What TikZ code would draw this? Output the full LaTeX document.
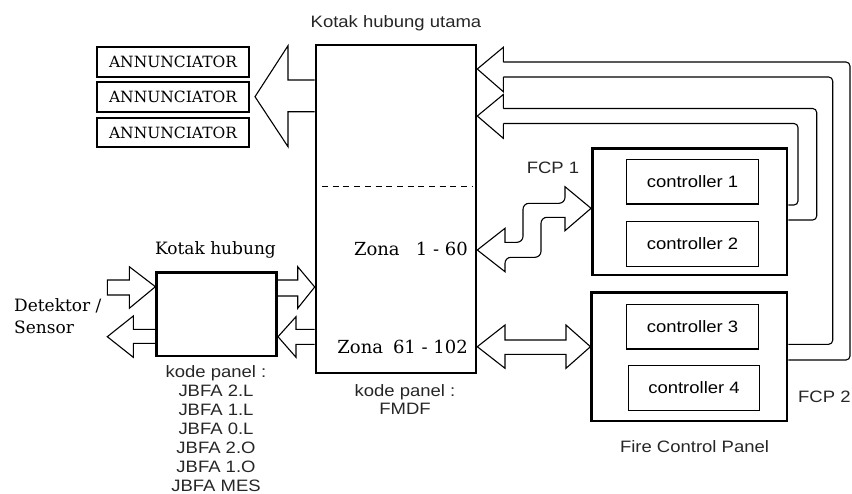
\documentclass[tikz,border=0pt]{standalone}
\usepackage{fontspec}
\usepackage{tikz}
\newfontfamily\arialfont{Liberation Sans}[FakeStretch=1.12]
\newfontfamily\bookfont{DejaVu Serif}

\begin{document}
\begin{tikzpicture}[x = 1pt, y = -1pt,
        bigbox/.style = {draw, line width=2.6pt, inner sep=0pt},
        ctrlbox/.style = {draw, line width=1.3pt, inner sep=0pt, minimum width=131.6pt,
            minimum height=44.5pt, font=\arialfont\fontsize{16.5}{18}\selectfont},
        annbox/.style = {draw, line width=2.4pt, inner sep=0pt, minimum width=152pt,
            minimum height=29.5pt, font=\bookfont\fontsize{15.5}{18}\selectfont},
        sanslabel/.style = {inner sep=0pt, align=center, text=black!85,
            font=\arialfont\fontsize{16.5}{18.9}\selectfont},
        seriflabel/.style = {inner sep=0pt, align=left, font=\bookfont\fontsize{17}{21.7}\selectfont},
        zonalabel/.style = {seriflabel, anchor=east, font=\bookfont\fontsize{18}{21.7}\selectfont},
        blockarrow/.style = {draw, line width=1.1pt, line join=miter},
        feedline/.style = {draw, line width=1.1pt, rounded corners=4pt}]
    \useasboundingbox (0,0) rectangle (852,493);

    \node[bigbox, minimum width=160pt, minimum height=328pt] (main) at (396,209) {};
    \node[sanslabel] (maintitle) at (396,23.3) {Kotak hubung utama};
    \draw[dash pattern=on 6pt off 4.7pt, line width=1.1pt] (322,186.7) -- (472.5,186.7);
    \node[zonalabel] (zonaa) at (468,249) {Zona\hspace{0.9em}1 - 60};
    \node[zonalabel] (zonab) at (468,346.7) {Zona\hspace{0.55em}61 - 102};
    \node[sanslabel] (mainkode) at (405,399.5) {kode panel :\\FMDF};

    \node[annbox] (ann1) at (173,62) {ANNUNCIATOR};
    \node[annbox] (ann2) at (173,97) {ANNUNCIATOR};
    \node[annbox] (ann3) at (173,132.5) {ANNUNCIATOR};
    \draw[blockarrow] (main.west |- 0,80) -- (288,80) -- (288,45.7) -- (255,96.7)
        -- (288,146.7) -- (288,111.7) -- (main.west |- 0,111.7);

    \node[bigbox, minimum width=120pt, minimum height=83.3pt] (hub) at (216.7,314.3) {};
    \node[seriflabel] (hubtitle) at (215.5,250) {Kotak hubung};
    \node[sanslabel] (hubkode) at (216,428.5)
        {kode panel :\\JBFA 2.L\\JBFA 1.L\\JBFA 0.L\\JBFA 2.O\\JBFA 1.O\\JBFA MES};
    \node[seriflabel, anchor=west] (sensor) at (14,316) {Detektor /\\Sensor};

    \draw[blockarrow] (107.3,280) -- (129.3,280) -- (129.3,266.7) -- (hub.west |- 0,286.7)
        -- (129.3,308.3) -- (129.3,295) -- (107.3,295) -- cycle;
    \draw[blockarrow] (hub.west |- 0,329.3) -- (133.3,329.3) -- (133.3,316) -- (107.3,336.7)
        -- (133.3,357.3) -- (133.3,343.3) -- (hub.west |- 0,343.3);
    \draw[blockarrow] (hub.east |- 0,280) -- (297.7,280) -- (297.7,266.7) -- (main.west |- 0,287)
        -- (297.7,308.3) -- (297.7,296) -- (hub.east |- 0,296);
    \draw[blockarrow] (main.west |- 0,329.3) -- (296,329.3) -- (296,316.7) -- (hub.east |- 0,336.7)
        -- (296,357.3) -- (296,344.3) -- (main.west |- 0,344.3);

    \node[bigbox, minimum width=194.7pt, minimum height=126.7pt] (fcp1) at (689.7,211.7) {};
    \node[bigbox, minimum width=195.3pt, minimum height=128.3pt] (fcp2) at (689.4,356.9) {};
    \node[ctrlbox] (ctrl1) at (692.5,181.7) {controller 1};
    \node[ctrlbox] (ctrl2) at (692.5,243.9) {controller 2};
    \node[ctrlbox] (ctrl3) at (692.5,326.8) {controller 3};
    \node[ctrlbox] (ctrl4) at (694,387.9) {controller 4};
    \node[sanslabel] (fcpa) at (553,168.3) {FCP 1};
    \node[sanslabel, anchor=west] (fcpb) at (798,396.7) {FCP 2};
    \node[sanslabel] (fcptitle) at (694.5,446.7) {Fire Control Panel};

    \draw[blockarrow] (main.east |- 0,250) -- (505,228.3) -- (505,242.3) [rounded corners=6pt]
        -- (523,242.3) -- (523,203.3) -- (565,203.3) [sharp corners] -- (565,186.7)
        -- (fcp1.west |- 0,208.3) -- (565,230.7) -- (565,217.3) [rounded corners=6pt]
        -- (541,217.3) -- (541,257.3) -- (505,257.3) [sharp corners] -- (505,271.7) -- cycle;
    \draw[blockarrow] (505,340) -- (566,340) -- (566,325) -- (fcp2.west |- 0,346.7)
        -- (566,368.3) -- (566,354.3) -- (505,354.3) -- (505,368.3) -- (main.east |- 0,346.7)
        -- (505,325) -- cycle;

    \draw[blockarrow] (503.3,62) -- (503.3,47.3) -- (main.east |- 0,69) -- (503.3,91.7) -- (503.3,77);
    \draw[blockarrow] (503.3,108.5) -- (503.3,94.5) -- (main.east |- 0,116) -- (503.3,138.3)
        -- (503.3,123.5);
    \draw[feedline] (fcp2.east |- 0,360) -| (850,62) -- (503.3,62);
    \draw[feedline] (fcp2.east |- 0,344.3) -| (832.7,77) -- (503.3,77);
    \draw[feedline] (fcp1.east |- 0,220) -| (816.7,108.5) -- (503.3,108.5);
    \draw[feedline] (fcp1.east |- 0,205) -| (798,123.5) -- (503.3,123.5);
\end{tikzpicture}
\end{document}
